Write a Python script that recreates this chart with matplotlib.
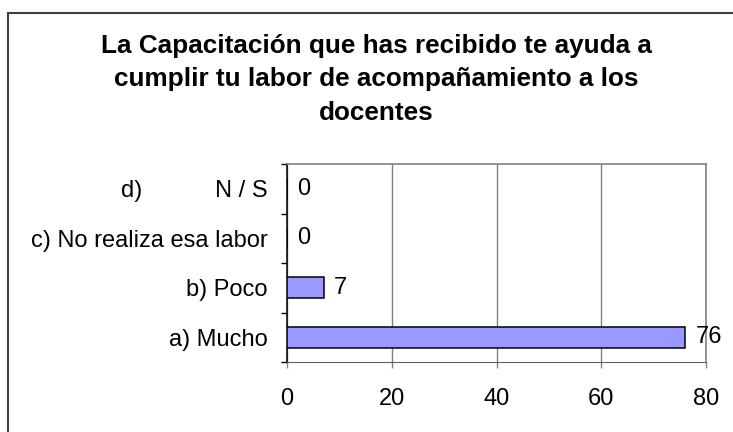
import numpy as np
import matplotlib.pyplot as plt
from matplotlib.patches import Rectangle

plt.rcParams['font.family'] = ['Liberation Sans', 'DejaVu Sans']

# datos de la encuesta (de abajo hacia arriba)
categorias = ['a) Mucho', 'b) Poco', 'c) No realiza esa labor', 'd)           N / S']
valores = [76, 7, 0, 0]
xticks = [0, 20, 40, 60, 80]
titulo = ('La Capacitación que has recibido te ayuda a\n'
          'cumplir tu labor de acompañamiento a los\n'
          'docentes')

fig = plt.figure(figsize=(7.33, 4.32), dpi=100)
ax = fig.add_axes([287/733, 1-362/432, (706-287)/733, (362-164)/432])

y = np.arange(len(categorias))
ax.barh(y, valores, height=0.42, color='#9999FF', edgecolor='black', linewidth=1.1, zorder=3)
for yi, v in zip(y, valores):
    ax.annotate(str(v), (v, yi), xytext=(7.5, 0), textcoords='offset points',
                va='center', ha='left', fontsize=17, zorder=4)

ax.set_xlim(0, 80)
ax.set_ylim(-0.5, len(categorias)-0.5)
ax.set_xticks(xticks)
ax.set_yticks(y)
ax.set_yticklabels(categorias)
ax.set_yticks(np.arange(-0.5, len(categorias)), minor=True)
ax.tick_params(axis='y', which='major', length=0, pad=14, labelsize=17)
ax.tick_params(axis='y', which='minor', length=4.5, width=1, direction='out')
ax.tick_params(axis='x', length=4.5, width=1, color='#808080', pad=14, labelsize=17)
ax.xaxis.grid(True, color='#808080', linewidth=1, zorder=1)
ax.set_axisbelow(True)
ax.spines['left'].set_color('black')
ax.spines['left'].set_linewidth(1.1)
ax.spines['bottom'].set_color('#606060')
for s in ['top', 'right']:
    ax.spines[s].set_color('#808080')
    ax.spines[s].set_linewidth(1.2)

fig.text(376/733, 1-34/432, titulo, ha='center', va='top', fontsize=18.8,
         fontweight='bold', linespacing=1.49)

# marco del grafico
fig.patches.append(Rectangle((8/733, -0.1), 1.2, 0.1+1-13/432, transform=fig.transFigure,
                             fill=False, edgecolor='#404040', linewidth=1.5))

fig.savefig('out.png', dpi=100)
